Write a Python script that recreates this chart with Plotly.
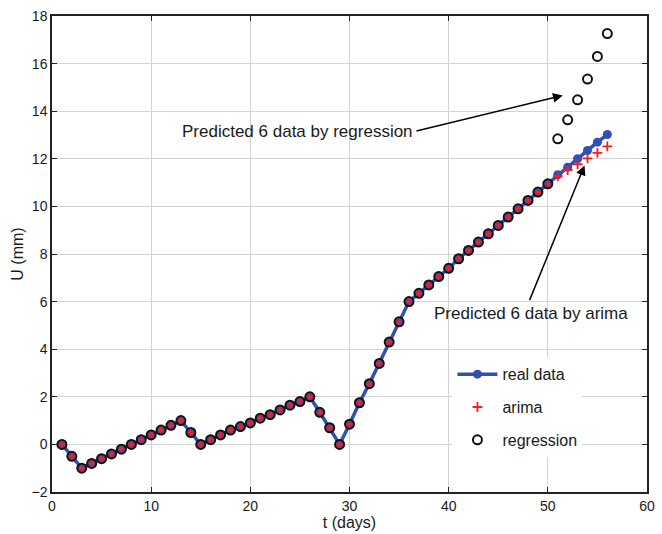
import plotly.graph_objects as go

days = list(range(1, 57))
real = [0.0, -0.5, -1.0, -0.8, -0.6, -0.4, -0.2, 0.0, 0.2, 0.4,
        0.6, 0.8, 1.0, 0.5, 0.0, 0.2, 0.4, 0.6, 0.75, 0.9,
        1.1, 1.25, 1.45, 1.65, 1.8, 2.0, 1.35, 0.7, 0.0, 0.85,
        1.75, 2.55, 3.4, 4.3, 5.15, 6.0, 6.35, 6.7, 7.05, 7.4,
        7.8, 8.15, 8.5, 8.85, 9.2, 9.55, 9.9, 10.25, 10.6, 10.95,
        11.33, 11.65, 12.0, 12.35, 12.7, 13.02]
arima_pred = [11.26, 11.53, 11.77, 12.02, 12.25, 12.52]
regression_pred = [12.84, 13.64, 14.48, 15.35, 16.3, 17.26]
arima = real[:50] + arima_pred
regression = real[:50] + regression_pred

xticks = [0, 10, 20, 30, 40, 50, 60]
yticks = [-2, 0, 2, 4, 6, 8, 10, 12, 14, 16, 18]

fig = go.Figure()
fig.add_trace(go.Scatter(x=days, y=real, mode="lines+markers", name="real data",
                         legendgroup="a",
                         line=dict(color="#3150b3", width=3.5),
                         marker=dict(color="#3150b3", size=9, symbol="circle")))
fig.add_trace(go.Scatter(x=days, y=arima, mode="markers", name="arima",
                         legendgroup="b",
                         marker=dict(symbol="cross-thin", size=7,
                                     line=dict(color="#ff1a1a", width=1.8))))
fig.add_trace(go.Scatter(x=days, y=regression, mode="markers", name="regression",
                         legendgroup="c",
                         marker=dict(symbol="circle-open", size=9, color="#111",
                                     line=dict(color="#111", width=2))))

fnt = dict(family="Liberation Sans, Arial, sans-serif", size=14, color="#1a1a1a")

fig.add_annotation(x=51.5, y=14.66, ax=36.6, ay=13.15, xref="x", yref="y",
                   axref="x", ayref="y", text="", showarrow=True,
                   arrowhead=2, arrowsize=1.3, arrowwidth=1.5, arrowcolor="black")
fig.add_annotation(x=36.6, y=13.15, xref="x", yref="y", text="Predicted 6 data by regression",
                   showarrow=False, xanchor="right", font=dict(fnt, size=17))
fig.add_annotation(x=53.7, y=11.72, ax=48.1, ay=6.0, xref="x", yref="y",
                   axref="x", ayref="y", text="", showarrow=True,
                   arrowhead=2, arrowsize=1.3, arrowwidth=1.5, arrowcolor="black")
fig.add_annotation(x=48.3, y=5.5, xref="x", yref="y", text="Predicted 6 data by arima",
                   showarrow=False, xanchor="center", font=dict(fnt, size=17))

axis_common = dict(showline=True, linecolor="#222", linewidth=1.5, mirror="ticks",
                   ticks="inside", ticklen=5, tickcolor="#222",
                   showgrid=True, gridcolor="#d4d4d4", gridwidth=1,
                   zeroline=False, tickfont=fnt)
fig.update_xaxes(range=[0, 60], tickvals=xticks,
                 title=dict(text="t (days)", font=dict(fnt, size=16), standoff=2),
                 **axis_common)
fig.update_yaxes(range=[-2, 18], tickvals=yticks,
                 title=dict(text="U (mm)", font=dict(fnt, size=16), standoff=4),
                 **axis_common)

fig.update_layout(width=662, height=534, margin=dict(l=52, r=7, t=16, b=42),
                  plot_bgcolor="white", paper_bgcolor="white",
                  legend=dict(x=0.673, y=0.283, xanchor="left", yanchor="top",
                              bgcolor="white", borderwidth=0,
                              font=dict(fnt, size=16), itemwidth=40,
                              traceorder="grouped", tracegroupgap=9),
                  showlegend=True)

fig.write_html("out.html")
